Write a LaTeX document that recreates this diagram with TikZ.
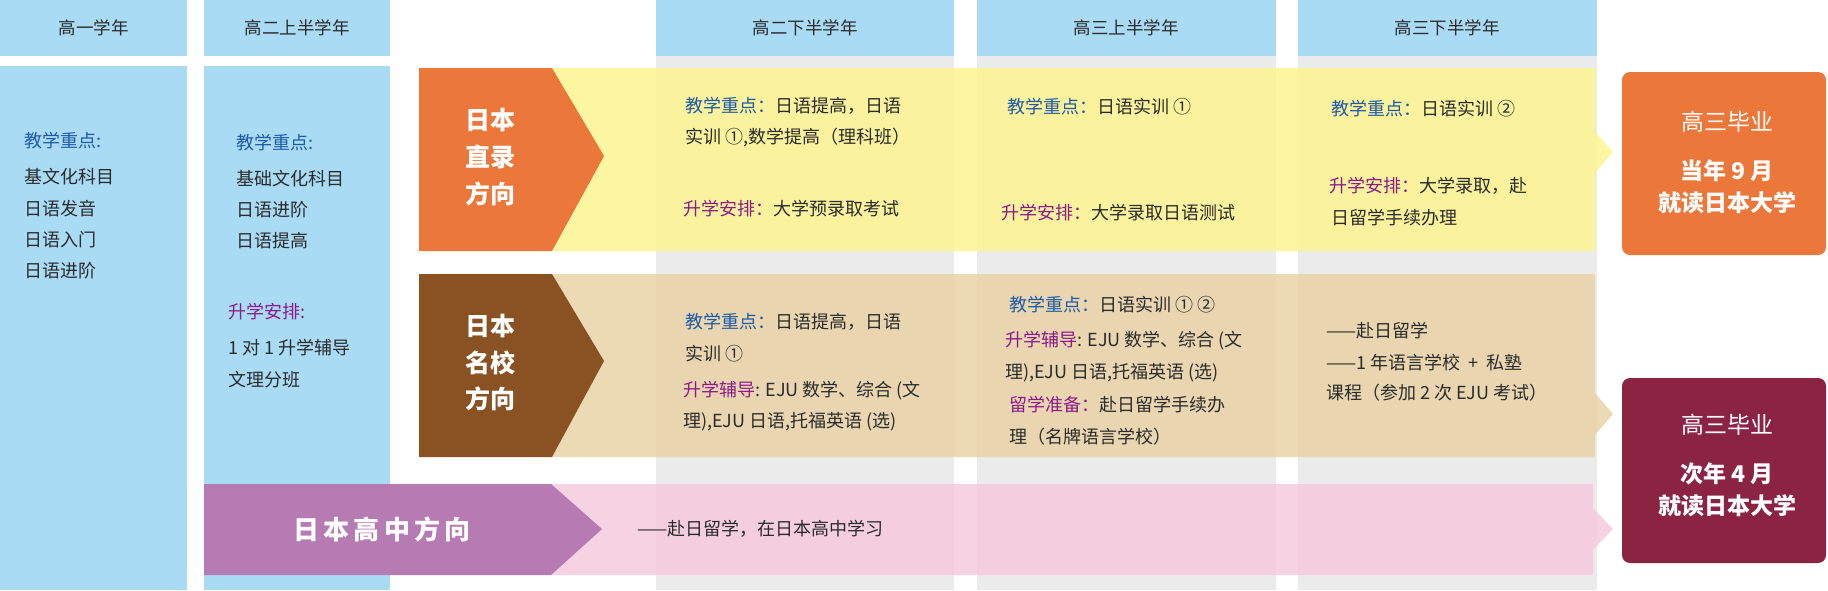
\documentclass[tikz,border=0pt]{standalone}
\usepackage{fontspec}
\setmainfont{Noto Sans CJK SC}
\begin{document}
\begin{tikzpicture}[x=1pt,y=-1pt,
  hdr/.style={fill=hblue,draw=none},
  txt/.style={anchor=west,inner sep=0pt,font=\fontsize{18}{21}\selectfont,text=tgray},
  ctxt/.style={inner sep=0pt,font=\fontsize{17.5}{20}\selectfont,text=tgray},
  chev/.style={inner sep=0pt,font=\fontsize{25}{28}\selectfont\bfseries,text=white},
  fin/.style={inner sep=0pt,font=\fontsize{23}{28}\selectfont,text=white},
  finb/.style={inner sep=0pt,font=\fontsize{23}{28}\selectfont\bfseries,text=white}]
\definecolor{hblue}{HTML}{A9DBF5}
\definecolor{tgray}{HTML}{2B2B2B}
\definecolor{lblue}{HTML}{1E5AA8}
\definecolor{lmag}{HTML}{8C1A8A}
\definecolor{orng}{HTML}{EC773A}
\definecolor{brwn}{HTML}{8A5222}
\definecolor{purp}{HTML}{B67BB2}
\definecolor{maro}{HTML}{8A2442}
\definecolor{ylw}{HTML}{FDF48F}
\definecolor{tan}{HTML}{E9D3A8}
\definecolor{pnk}{HTML}{F6CADE}
\definecolor{gry}{HTML}{EBEBEB}
\newcommand{\kb}[1]{\textcolor{lblue}{#1}}
\newcommand{\km}[1]{\textcolor{lmag}{#1}}
\useasboundingbox (0,0) rectangle (1828,590);
% columns
\fill[hdr] (0,0) rectangle (187,56);
\fill[hdr] (0,66) rectangle (187,590);
\fill[hdr] (204,0) rectangle (390,56);
\fill[hdr] (204,66) rectangle (390,590);
\fill[gry] (656,56) rectangle (954,590);
\fill[gry] (977,56) rectangle (1276,590);
\fill[gry] (1298,56) rectangle (1597,590);
\fill[hdr] (656,0) rectangle (954,56);
\fill[hdr] (977,0) rectangle (1276,56);
\fill[hdr] (1298,0) rectangle (1597,56);
\node[ctxt] (h1) at (93.5,28) {高一学年};
\node[ctxt] (h2) at (297,28) {高二上半学年};
\node[ctxt] (h3) at (805,28) {高二下半学年};
\node[ctxt] (h4) at (1126,28) {高三上半学年};
\node[ctxt] (h5) at (1447,28) {高三下半学年};
% bands
\fill[ylw,fill opacity=0.85] (552,68) -- (1595,68) -- (1595,132) -- (1613,152) -- (1595,173) -- (1595,251) -- (552,251) -- cycle;
\fill[tan,fill opacity=0.85] (552,274) -- (1595,274) -- (1595,393) -- (1613,414) -- (1595,435) -- (1595,457) -- (552,457) -- cycle;
\fill[pnk,fill opacity=0.85] (552,484) -- (1593,484) -- (1593,508) -- (1613,529) -- (1593,550) -- (1593,575) -- (552,575) -- cycle;
% chevrons
\fill[orng] (419,68) -- (552,68) -- (604,156) -- (552,251) -- (419,251) -- cycle;
\fill[brwn] (419,274) -- (552,274) -- (604,361) -- (552,457) -- (419,457) -- cycle;
\fill[purp] (204,484) -- (551,484) -- (602,529) -- (551,575) -- (204,575) -- cycle;
\node[chev] (c1a) at (490,120) {日本};
\node[chev] (c1b) at (490,157) {直录};
\node[chev] (c1c) at (490,194) {方向};
\node[chev] (c2a) at (490,326) {日本};
\node[chev] (c2b) at (490,363) {名校};
\node[chev] (c2c) at (490,399) {方向};
\node[chev,font=\fontsize{26}{28}\selectfont\bfseries] (c3) at (382,529) {日\,本\,高\,中\,方\,向};
% final boxes
\fill[orng,rounded corners=8pt] (1622,72) rectangle (1826,255);
\fill[maro,rounded corners=8pt] (1622,378) rectangle (1826,563);
\node[fin] (f1a) at (1727,122) {高三毕业};
\node[finb] (f1b) at (1727,171) {当年 9 月};
\node[finb] (f1c) at (1727,203) {就读日本大学};
\node[fin] (f2a) at (1727,425) {高三毕业};
\node[finb] (f2b) at (1727,474) {次年 4 月};
\node[finb] (f2c) at (1727,506) {就读日本大学};
% col1
\node[txt] (a1) at (24,141) {\kb{教学重点:}};
\node[txt] (a2) at (24,177) {基文化科目};
\node[txt] (a3) at (24,209) {日语发音};
\node[txt] (a4) at (24,240) {日语入门};
\node[txt] (a5) at (24,271) {日语进阶};
% col2
\node[txt] (b1) at (236,143) {\kb{教学重点:}};
\node[txt] (b2) at (236,179) {基础文化科目};
\node[txt] (b3) at (236,210) {日语进阶};
\node[txt] (b4) at (236,241) {日语提高};
\node[txt] (b5) at (228,312) {\km{升学安排:}};
\node[txt] (b6) at (228,348) {1 对 1 升学辅导};
\node[txt] (b7) at (228,380) {文理分班};
% col3
\node[txt] (d1) at (685,106) {\kb{教学重点：}日语提高，日语};
\node[txt] (d2) at (685,137) {实训 ①,数学提高（理科班）};
\node[txt] (d3) at (683,209) {\km{升学安排：}大学预录取考试};
\node[txt] (d4) at (685,322) {\kb{教学重点：}日语提高，日语};
\node[txt] (d5) at (685,354) {实训 ①};
\node[txt] (d6) at (683,391) {\km{升学辅导}: EJU 数学、综合 (文};
\node[txt] (d7) at (683,422) {理),EJU 日语,托福英语 (选)};
\node[txt] (d8) at (637,529) {——赴日留学，在日本高中学习};
% col4
\node[txt] (e1) at (1007,107) {\kb{教学重点：}日语实训 ①};
\node[txt] (e2) at (1001,213) {\km{升学安排：}大学录取日语测试};
\node[txt] (e3) at (1009,305) {\kb{教学重点：}日语实训 ① ②};
\node[txt] (e4) at (1005,341) {\km{升学辅导}: EJU 数学、综合 (文};
\node[txt] (e5) at (1005,373) {理),EJU 日语,托福英语 (选)};
\node[txt] (e6) at (1009,405) {\km{留学准备：}赴日留学手续办};
\node[txt] (e7) at (1009,437) {理（名牌语言学校）};
% col5
\node[txt] (g1) at (1331,109) {\kb{教学重点：}日语实训 ②};
\node[txt] (g2) at (1329,186) {\km{升学安排：}大学录取，赴};
\node[txt] (g3) at (1331,218) {日留学手续办理};
\node[txt] (g4) at (1326,331) {——赴日留学};
\node[txt] (g5) at (1326,363) {——1\ 年语言学校 \ + \ 私塾};
\node[txt] (g6) at (1326,393) {课程（参加 2 次 EJU 考试）};
\end{tikzpicture}
\end{document}
